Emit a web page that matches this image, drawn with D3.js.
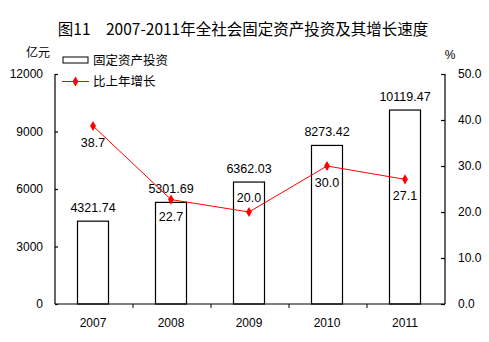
<!DOCTYPE html>
<html><head><meta charset="utf-8">
<script src="https://cdn.jsdelivr.net/npm/d3@7"></script>
<style>
body{margin:0;background:#fff;}
text{font-family:Arial,"Liberation Sans","Noto Sans CJK SC",sans-serif;}
.cjk{font-family:"Noto Sans CJK SC",sans-serif;}
</style></head><body>
<svg id="c" width="489" height="342"></svg>
<script>
const years = ["2007","2008","2009","2010","2011"];
const investment = [4321.74, 5301.69, 6362.03, 8273.42, 10119.47];
const growth = [38.7, 22.7, 20.0, 30.0, 27.1];
const leftTicks = [0, 3000, 6000, 9000, 12000];
const rightTicks = [0, 10, 20, 30, 40, 50];
const growthLabelPos = ["below","below","above","below","below"];

const svg = d3.select("#c");
const L = 55, R = 445, T = 74, B = 304;
const x = d3.scaleBand().domain(years).range([L, R]);
const yL = d3.scaleLinear().domain([0, 12000]).range([B, T]);
const yR = d3.scaleLinear().domain([0, 50]).range([B, T]);

// title
svg.append("text").attr("class","cjk").attr("x", 243).attr("y", 35)
  .attr("text-anchor","middle").attr("font-size", 15.5).attr("font-weight","normal")
  .attr("fill","#000").text("图11　2007-2011年全社会固定资产投资及其增长速度");

svg.append("text").attr("class","cjk").attr("x", 38).attr("y", 57)
  .attr("text-anchor","middle").attr("font-size", 12).text("亿元");
svg.append("text").attr("x", 450).attr("y", 59)
  .attr("text-anchor","middle").attr("font-size", 12).text("%");

// bars
const bw = 31;
svg.selectAll("rect.bar").data(years).enter().append("rect")
  .attr("x", d => x(d) + x.bandwidth()/2 - bw/2 - 1)
  .attr("y", (d,i) => yL(investment[i]))
  .attr("width", bw).attr("height", (d,i) => B - yL(investment[i]))
  .attr("fill","#fff").attr("stroke","#000").attr("stroke-width",1.2);

svg.selectAll("text.bl").data(years).enter().append("text")
  .attr("x", d => x(d) + x.bandwidth()/2 - 1)
  .attr("y", (d,i) => yL(investment[i]) - 9)
  .attr("text-anchor","middle").attr("font-size", 12.5).attr("fill","#000")
  .text((d,i) => investment[i].toFixed(2));

// axes
const axL = d3.axisLeft(yL).tickValues(leftTicks).tickSizeInner(-3).tickSizeOuter(0).tickPadding(12).tickFormat(d3.format("d"));
const gL = svg.append("g").attr("transform",`translate(${L},0)`).call(axL);
const axR = d3.axisRight(yR).tickValues(rightTicks).tickSizeInner(-4).tickSizeOuter(0).tickPadding(13).tickFormat(d3.format(".1f"));
const gR = svg.append("g").attr("transform",`translate(${R},0)`).call(axR);
[gL,gR].forEach(g => {
  g.selectAll("path,line").attr("stroke","#000").attr("stroke-width",1.2);
  g.selectAll("text").attr("font-size",12).attr("fill","#000").attr("font-family","Arial,'Liberation Sans',sans-serif");
});
gL.select(".domain").attr("d", `M0,${T}V${B}`);
gR.select(".domain").attr("d", `M0,${T}V${B}`);

// x axis
const gX = svg.append("g");
gX.append("line").attr("x1", L).attr("x2", R).attr("y1", B).attr("y2", B)
  .attr("stroke","#000").attr("stroke-width",1.2);
gX.selectAll("line.t").data(years.slice(1)).enter().append("line")
  .attr("x1", d => x(d)).attr("x2", d => x(d)).attr("y1", B).attr("y2", B+4)
  .attr("stroke","#000").attr("stroke-width",1);
gX.selectAll("text").data(years).enter().append("text")
  .attr("x", d => x(d) + x.bandwidth()/2 - 1).attr("y", B + 23)
  .attr("text-anchor","middle").attr("font-size",12).attr("fill","#000").text(d => d);

// line
const line = d3.line().x((d,i) => x(years[i]) + x.bandwidth()/2 - 1).y(d => yR(d));
svg.append("path").datum(growth).attr("d", line).attr("fill","none")
  .attr("stroke","#ff0000").attr("stroke-width",1);
const sym = d3.symbol().type(d3.symbolDiamond).size(30);
svg.selectAll("path.pt").data(growth).enter().append("path")
  .attr("transform",(d,i) => `translate(${x(years[i]) + x.bandwidth()/2 - 1},${yR(d)})`)
  .attr("d", sym).attr("fill","#ff0000");
svg.selectAll("text.gl").data(growth).enter().append("text")
  .attr("x",(d,i) => x(years[i]) + x.bandwidth()/2 - 1)
  .attr("y",(d,i) => growthLabelPos[i] === "above" ? yR(d) - 10 : yR(d) + 21)
  .attr("text-anchor","middle").attr("font-size",12.5).attr("fill","#000")
  .text(d => d.toFixed(1));

// legend
svg.append("rect").attr("x",63).attr("y",57).attr("width",25).attr("height",6)
  .attr("fill","#fff").attr("stroke","#000").attr("stroke-width",1);
svg.append("text").attr("class","cjk").attr("x",93).attr("y",65).attr("font-size",12.5).text("固定资产投资");
svg.append("line").attr("x1",62).attr("x2",89).attr("y1",81.5).attr("y2",81.5).attr("stroke","#ff0000").attr("stroke-width",1);
svg.append("path").attr("transform","translate(75.5,81.5)").attr("d",sym).attr("fill","#ff0000");
svg.append("text").attr("class","cjk").attr("x",93).attr("y",86).attr("font-size",12.5).text("比上年增长");
</script></body></html>
